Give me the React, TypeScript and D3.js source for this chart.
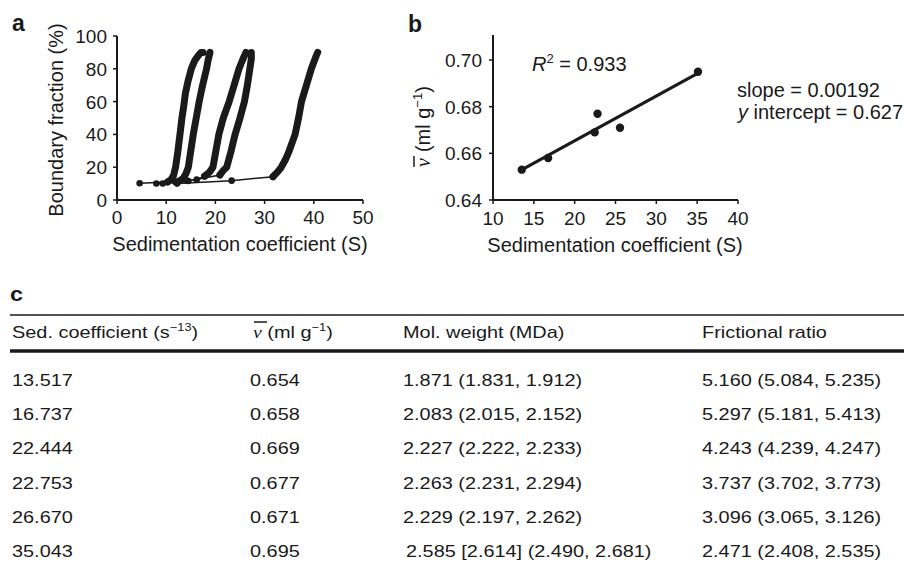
import React from "react";
import * as d3 from "d3";

// panel a: boundary fraction runs (S, %)
const run1S = [4.6, 10.3, 11.0, 11.5, 11.9, 12.3, 12.8, 13.2, 13.6, 13.9, 14.4, 15.1, 15.8, 16.5, 17.1, 17.5];
const run1F = [10.2, 11.0, 12.5, 15, 20, 28, 40, 50, 58, 65, 72, 80, 85, 88, 90, 90];
const run2S = [8.0, 12.4, 13.4, 14.0, 14.5, 15.0, 15.5, 16.1, 16.7, 17.4, 18.2, 18.5, 18.9];
const run2F = [10.1, 11.2, 13, 16, 20, 30, 40, 50, 60, 70, 80, 85, 90];
const run3S = [11.8, 14.2, 16.2, 17.8, 18.8, 19.5, 20.1, 20.7, 21.6, 22.8, 23.8, 24.8, 25.6, 26.2];
const run3F = [11.2, 11.8, 12.5, 14.5, 17, 20, 30, 40, 50, 60, 70, 80, 86, 90];
const run4S = [9.3, 14.5, 20.9, 21.6, 22.3, 23.2, 24.0, 25.0, 25.9, 26.5, 27.0, 27.3, 27.3];
const run4F = [10.1, 11.6, 15.2, 18, 20, 30, 40, 50, 60, 70, 80, 86, 90];
const run5S = [12.2, 23.3, 31.7, 32.6, 33.4, 34.3, 35.0, 36.2, 36.9, 37.5, 38.5, 39.5, 40.5, 40.8];
const run5F = [10.0, 11.8, 14.2, 17, 20, 25, 30, 40, 50, 60, 70, 80, 88, 90];
// index where the dense band of each run starts
const denseFrom = [1, 1, 3, 2, 2];

// panel b
const sedB = [13.52, 16.75, 22.45, 22.8, 25.55, 35.1];
const vbarB = [0.653, 0.658, 0.669, 0.677, 0.671, 0.695];
const slope = 0.00192;
const intercept = 0.627;
const fitRange = [13.5, 35];

// panel c table
const colSed = ["13.517", "16.737", "22.444", "22.753", "26.670", "35.043"];
const colV = ["0.654", "0.658", "0.669", "0.677", "0.671", "0.695"];
const colMW = [
  "1.871 (1.831, 1.912)",
  "2.083 (2.015, 2.152)",
  "2.227 (2.222, 2.233)",
  "2.263 (2.231, 2.294)",
  "2.229 (2.197, 2.262)",
  "2.585 [2.614] (2.490, 2.681)",
];
const colFR = [
  "5.160 (5.084, 5.235)",
  "5.297 (5.181, 5.413)",
  "4.243 (4.239, 4.247)",
  "3.737 (3.702, 3.773)",
  "3.096 (3.065, 3.126)",
  "2.471 (2.408, 2.535)",
];

const sans = "'Liberation Sans', Arial, Helvetica, sans-serif";
const serif = "'Liberation Serif', 'Times New Roman', serif";
const ink = "#1a1a1a";

const runs = [
  [run1S, run1F],
  [run2S, run2F],
  [run3S, run3F],
  [run4S, run4F],
  [run5S, run5F],
].map(([s, f]) => s.map((v, i) => [v, f[i]] as [number, number]));

const TCell = ({ x, y, children }: { x: number; y: number; children: React.ReactNode }) => (
  <text transform={`translate(${x},${y}) scale(1.17,1)`} fontSize={17} fontFamily={sans} fill={ink}>
    {children}
  </text>
);

export default function App() {
  const xA = d3.scaleLinear().domain([0, 50]).range([117, 363]);
  const yA = d3.scaleLinear().domain([0, 100]).range([200, 36]);
  const xB = d3.scaleLinear().domain([10, 40]).range([493, 738]);
  const yB = d3.scaleLinear().domain([0.64, 0.71]).range([200, 36.7]);

  const lineA = d3.line<[number, number]>().x((d) => xA(d[0])).y((d) => yA(d[1]));
  const lineB = d3.line<number>().x((d) => xB(d)).y((d) => yB(intercept + slope * d));

  const rowY = d3.range(colSed.length).map((i) => 386 + i * 34.2);

  return (
    <svg width={904} height={570} style={{ position: "absolute", left: 0, top: 0, background: "#fff" }}>
      {/* panel a */}
      <text x={12} y={31} fontSize={23} fontWeight="bold" fontFamily={sans} fill={ink}>a</text>
      {runs.map((pts, k) => (
        <g key={k}>
          <path d={lineA(pts) || ""} fill="none" stroke={ink} strokeWidth={1.5} />
          <path
            d={lineA(pts.slice(denseFrom[k])) || ""}
            fill="none"
            stroke={ink}
            strokeWidth={7}
            strokeLinejoin="round"
            strokeLinecap="round"
          />
          {pts.slice(0, denseFrom[k] + 1).map((p, i) => (
            <circle key={i} cx={xA(p[0])} cy={yA(p[1])} r={3.3} fill={ink} />
          ))}
        </g>
      ))}
      <g fontFamily={sans} fontSize={19} fill={ink}>
        <line x1={xA(0)} x2={xA(0)} y1={yA(100)} y2={yA(0)} stroke={ink} strokeWidth={2} />
        <line x1={xA(0)} x2={xA(50)} y1={yA(0)} y2={yA(0)} stroke={ink} strokeWidth={2} />
        {yA.ticks(5).map((t) => (
          <g key={t}>
            <line x1={xA(0) - 4} x2={xA(0)} y1={yA(t)} y2={yA(t)} stroke={ink} strokeWidth={1.5} />
            <text x={xA(0) - 10} y={yA(t) + 7} textAnchor="end">{t}</text>
          </g>
        ))}
        {xA.ticks(5).map((t) => (
          <g key={t}>
            <line x1={xA(t)} x2={xA(t)} y1={yA(0)} y2={yA(0) + 4} stroke={ink} strokeWidth={1.5} />
            <text x={xA(t)} y={224} textAnchor="middle">{t}</text>
          </g>
        ))}
        <text x={240} y={251} textAnchor="middle" fontSize={20}>Sedimentation coefficient (S)</text>
        <text transform="translate(63,120) rotate(-90)" textAnchor="middle" fontSize={20}>Boundary fraction (%)</text>
      </g>

      {/* panel b */}
      <text x={408} y={32} fontSize={23} fontWeight="bold" fontFamily={sans} fill={ink}>b</text>
      <g fontFamily={sans} fontSize={19} fill={ink}>
        <line x1={xB(10)} x2={xB(10)} y1={35} y2={yB(0.64)} stroke={ink} strokeWidth={2} />
        <line x1={xB(10)} x2={xB(40)} y1={yB(0.64)} y2={yB(0.64)} stroke={ink} strokeWidth={2} />
        {[0.64, 0.66, 0.68, 0.7].map((t) => (
          <g key={t}>
            <line x1={xB(10) - 4} x2={xB(10)} y1={yB(t)} y2={yB(t)} stroke={ink} strokeWidth={1.5} />
            <text x={xB(10) - 11} y={yB(t) + 7} textAnchor="end">{t.toFixed(2)}</text>
          </g>
        ))}
        {xB.ticks(6).map((t) => (
          <g key={t}>
            <line x1={xB(t)} x2={xB(t)} y1={yB(0.64)} y2={yB(0.64) + 4} stroke={ink} strokeWidth={1.5} />
            <text x={xB(t)} y={225} textAnchor="middle">{t}</text>
          </g>
        ))}
        <text x={615} y={252} textAnchor="middle" fontSize={20}>Sedimentation coefficient (S)</text>
        <g transform="translate(430,120) rotate(-90)" fontSize={20}>
          <text x={-47} y={0}>
            <tspan fontFamily={serif} fontStyle="italic">v</tspan>
            <tspan dx={6}>(ml g</tspan>
            <tspan fontSize={13} dy={-8}>−1</tspan>
            <tspan dy={8}>)</tspan>
          </text>
          <line x1={-47} x2={-36} y1={-16} y2={-16} stroke={ink} strokeWidth={1.5} />
        </g>
        <path d={lineB(fitRange) || ""} stroke={ink} strokeWidth={3.2} fill="none" />
        {sedB.map((s, i) => (
          <circle key={i} cx={xB(s)} cy={yB(vbarB[i])} r={4.2} fill={ink} />
        ))}
        <text x={532} y={71} fontSize={20}>
          <tspan fontStyle="italic">R</tspan>
          <tspan fontSize={13} dy={-8}>2</tspan>
          <tspan dy={8}> = 0.933</tspan>
        </text>
        <text x={737} y={97} fontSize={20}>slope = {slope}</text>
        <text x={738} y={119} fontSize={20}>
          <tspan fontStyle="italic">y</tspan> intercept = {intercept}
        </text>
      </g>

      {/* panel c */}
      <text transform="translate(10,301) scale(1.17,1)" fontSize={20} fontWeight="bold" fontFamily={sans} fill={ink}>c</text>
      <line x1={10} x2={904} y1={315} y2={315} stroke={ink} strokeWidth={1.5} />
      <line x1={10} x2={904} y1={351} y2={351} stroke={ink} strokeWidth={3.5} />
      <TCell x={12} y={338}>
        Sed. coefficient (s<tspan fontSize={11} dy={-7}>−13</tspan><tspan dy={7}>)</tspan>
      </TCell>
      <TCell x={253} y={338}>
        <tspan fontFamily={serif} fontStyle="italic">v</tspan> (ml g<tspan fontSize={11} dy={-7}>−1</tspan><tspan dy={7}>)</tspan>
      </TCell>
      <line x1={254} x2={267} y1={322} y2={322} stroke={ink} strokeWidth={1.5} />
      <TCell x={403} y={338}>Mol. weight (MDa)</TCell>
      <TCell x={702} y={338}>Frictional ratio</TCell>
      {rowY.map((y, i) => (
        <g key={i}>
          <TCell x={12} y={y}>{colSed[i]}</TCell>
          <TCell x={250} y={y}>{colV[i]}</TCell>
          <TCell x={i === 5 ? 406 : 403} y={y}>{colMW[i]}</TCell>
          <TCell x={702} y={y}>{colFR[i]}</TCell>
        </g>
      ))}
    </svg>
  );
}
